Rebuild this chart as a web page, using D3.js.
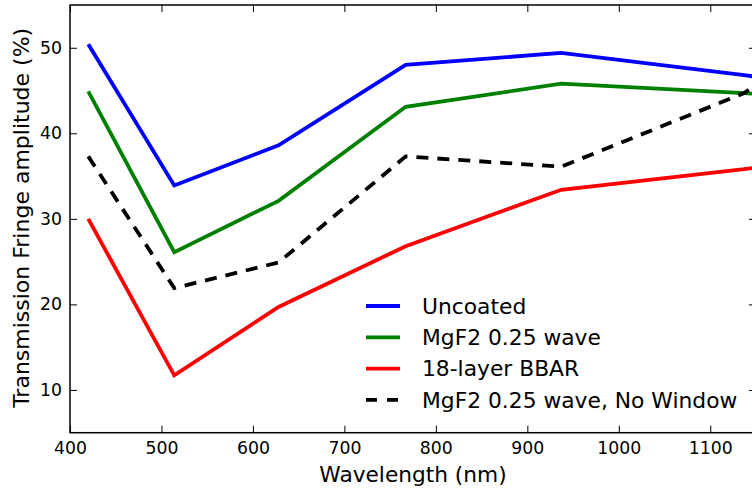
<!DOCTYPE html>
<html>
<head>
<meta charset="utf-8">
<script src="https://cdn.jsdelivr.net/npm/d3@7"></script>
<style>
  html, body { margin: 0; padding: 0; background: #fff; }
  svg { display: block; font-family: "DejaVu Sans", sans-serif; }
</style>
</head>
<body>
<svg id="chart" width="752" height="491"></svg>
<script>
// Wavelengths (nm) at which the fringe amplitude was measured
const wavelengths = [420, 514, 628, 767, 937, 1137, 1150];

// Transmission fringe amplitude (%) for each coating
const uncoated    = [50.4, 33.9, 38.6, 48.0, 49.4, 46.8, 46.6];
const mgf2        = [44.9, 26.1, 32.1, 43.1, 45.8, 44.7, 44.6];
const bbar18      = [30.0, 11.7, 19.7, 26.8, 33.4, 35.8, 36.0];
const mgf2NoWin   = [37.3, 21.9, 24.9, 37.3, 36.1, 44.7, 45.7];

const seriesNames = ["Uncoated", "MgF2 0.25 wave", "18-layer BBAR", "MgF2 0.25 wave, No Window"];
const seriesValues = [uncoated, mgf2, bbar18, mgf2NoWin];
const seriesColors = ["#0000ff", "#008000", "#ff0000", "#000000"];
const seriesDashed = [false, false, false, true];

const xTicks = [400, 500, 600, 700, 800, 900, 1000, 1100];
const yTicks = [10, 20, 30, 40, 50];

const margin = { left: 70, top: 5, right: 756, bottom: 432.7 };
const svg = d3.select("#chart");

const x = d3.scaleLinear().domain([400, 1150]).range([margin.left, margin.right]);
const y = d3.scaleLinear().domain([5, 55]).range([margin.bottom, margin.top]);

svg.append("defs").append("clipPath").attr("id", "plotClip")
  .append("rect")
  .attr("x", margin.left).attr("y", margin.top)
  .attr("width", margin.right - margin.left)
  .attr("height", margin.bottom - margin.top);

// Data lines
const line = d3.line().x((d, i) => x(wavelengths[i])).y(d => y(d));
const plot = svg.append("g").attr("clip-path", "url(#plotClip)");
seriesValues.forEach((vals, k) => {
  plot.append("path")
    .datum(vals)
    .attr("d", line)
    .attr("fill", "none")
    .attr("stroke", seriesColors[k])
    .attr("stroke-width", 3.8)
    .attr("stroke-linejoin", "miter")
    .attr("stroke-dasharray", seriesDashed[k] ? "12,9" : null);
});

// Axes with inward ticks on all four sides
const tickLen = 7;
const fmt = d3.format("d");
const styleAxis = g => {
  g.select(".domain").remove();
  g.selectAll(".tick line").attr("stroke", "#000").attr("stroke-width", 1);
  g.selectAll(".tick text").attr("fill", "#000").attr("font-size", "17.3px")
    .attr("font-family", "DejaVu Sans, sans-serif");
};

svg.append("g")
  .attr("transform", `translate(0,${margin.bottom})`)
  .call(d3.axisBottom(x).tickValues(xTicks).tickFormat(fmt)
    .tickSizeInner(-tickLen).tickSizeOuter(0).tickPadding(9))
  .call(styleAxis);

svg.append("g")
  .attr("transform", `translate(0,${margin.top})`)
  .call(d3.axisTop(x).tickValues(xTicks).tickSizeInner(-tickLen).tickSizeOuter(0).tickFormat(""))
  .call(styleAxis);

svg.append("g")
  .attr("transform", `translate(${margin.left},0)`)
  .call(d3.axisLeft(y).tickValues(yTicks).tickFormat(fmt)
    .tickSizeInner(-tickLen).tickSizeOuter(0).tickPadding(8))
  .call(styleAxis);

svg.append("g")
  .attr("transform", `translate(${margin.right},0)`)
  .call(d3.axisRight(y).tickValues(yTicks).tickSizeInner(-tickLen).tickSizeOuter(0).tickFormat(""))
  .call(styleAxis);

// Frame
svg.append("rect")
  .attr("x", margin.left).attr("y", margin.top)
  .attr("width", margin.right - margin.left)
  .attr("height", margin.bottom - margin.top)
  .attr("fill", "none").attr("stroke", "#000").attr("stroke-width", 1.5);

// Axis titles
svg.append("text")
  .attr("x", (margin.left + margin.right) / 2).attr("y", 482)
  .attr("text-anchor", "middle").attr("font-size", "21.7px")
  .text("Wavelength (nm)");

svg.append("text")
  .attr("transform", `translate(29,${(margin.top + margin.bottom) / 2 - 1}) rotate(-90)`)
  .attr("text-anchor", "middle").attr("font-size", "22px")
  .text("Transmission Fringe amplitude (%)");

// Legend
const legend = svg.append("g");
seriesNames.forEach((name, k) => {
  const ly = 306 + k * 31.3;
  legend.append("line")
    .attr("x1", 366).attr("x2", 400).attr("y1", ly).attr("y2", ly)
    .attr("stroke", seriesColors[k]).attr("stroke-width", 3.8)
    .attr("stroke-dasharray", seriesDashed[k] ? "11,10" : null);
  legend.append("text")
    .attr("x", 422).attr("y", ly).attr("dy", "0.35em")
    .attr("font-size", "21.8px")
    .text(name);
});
</script>
</body>
</html>
